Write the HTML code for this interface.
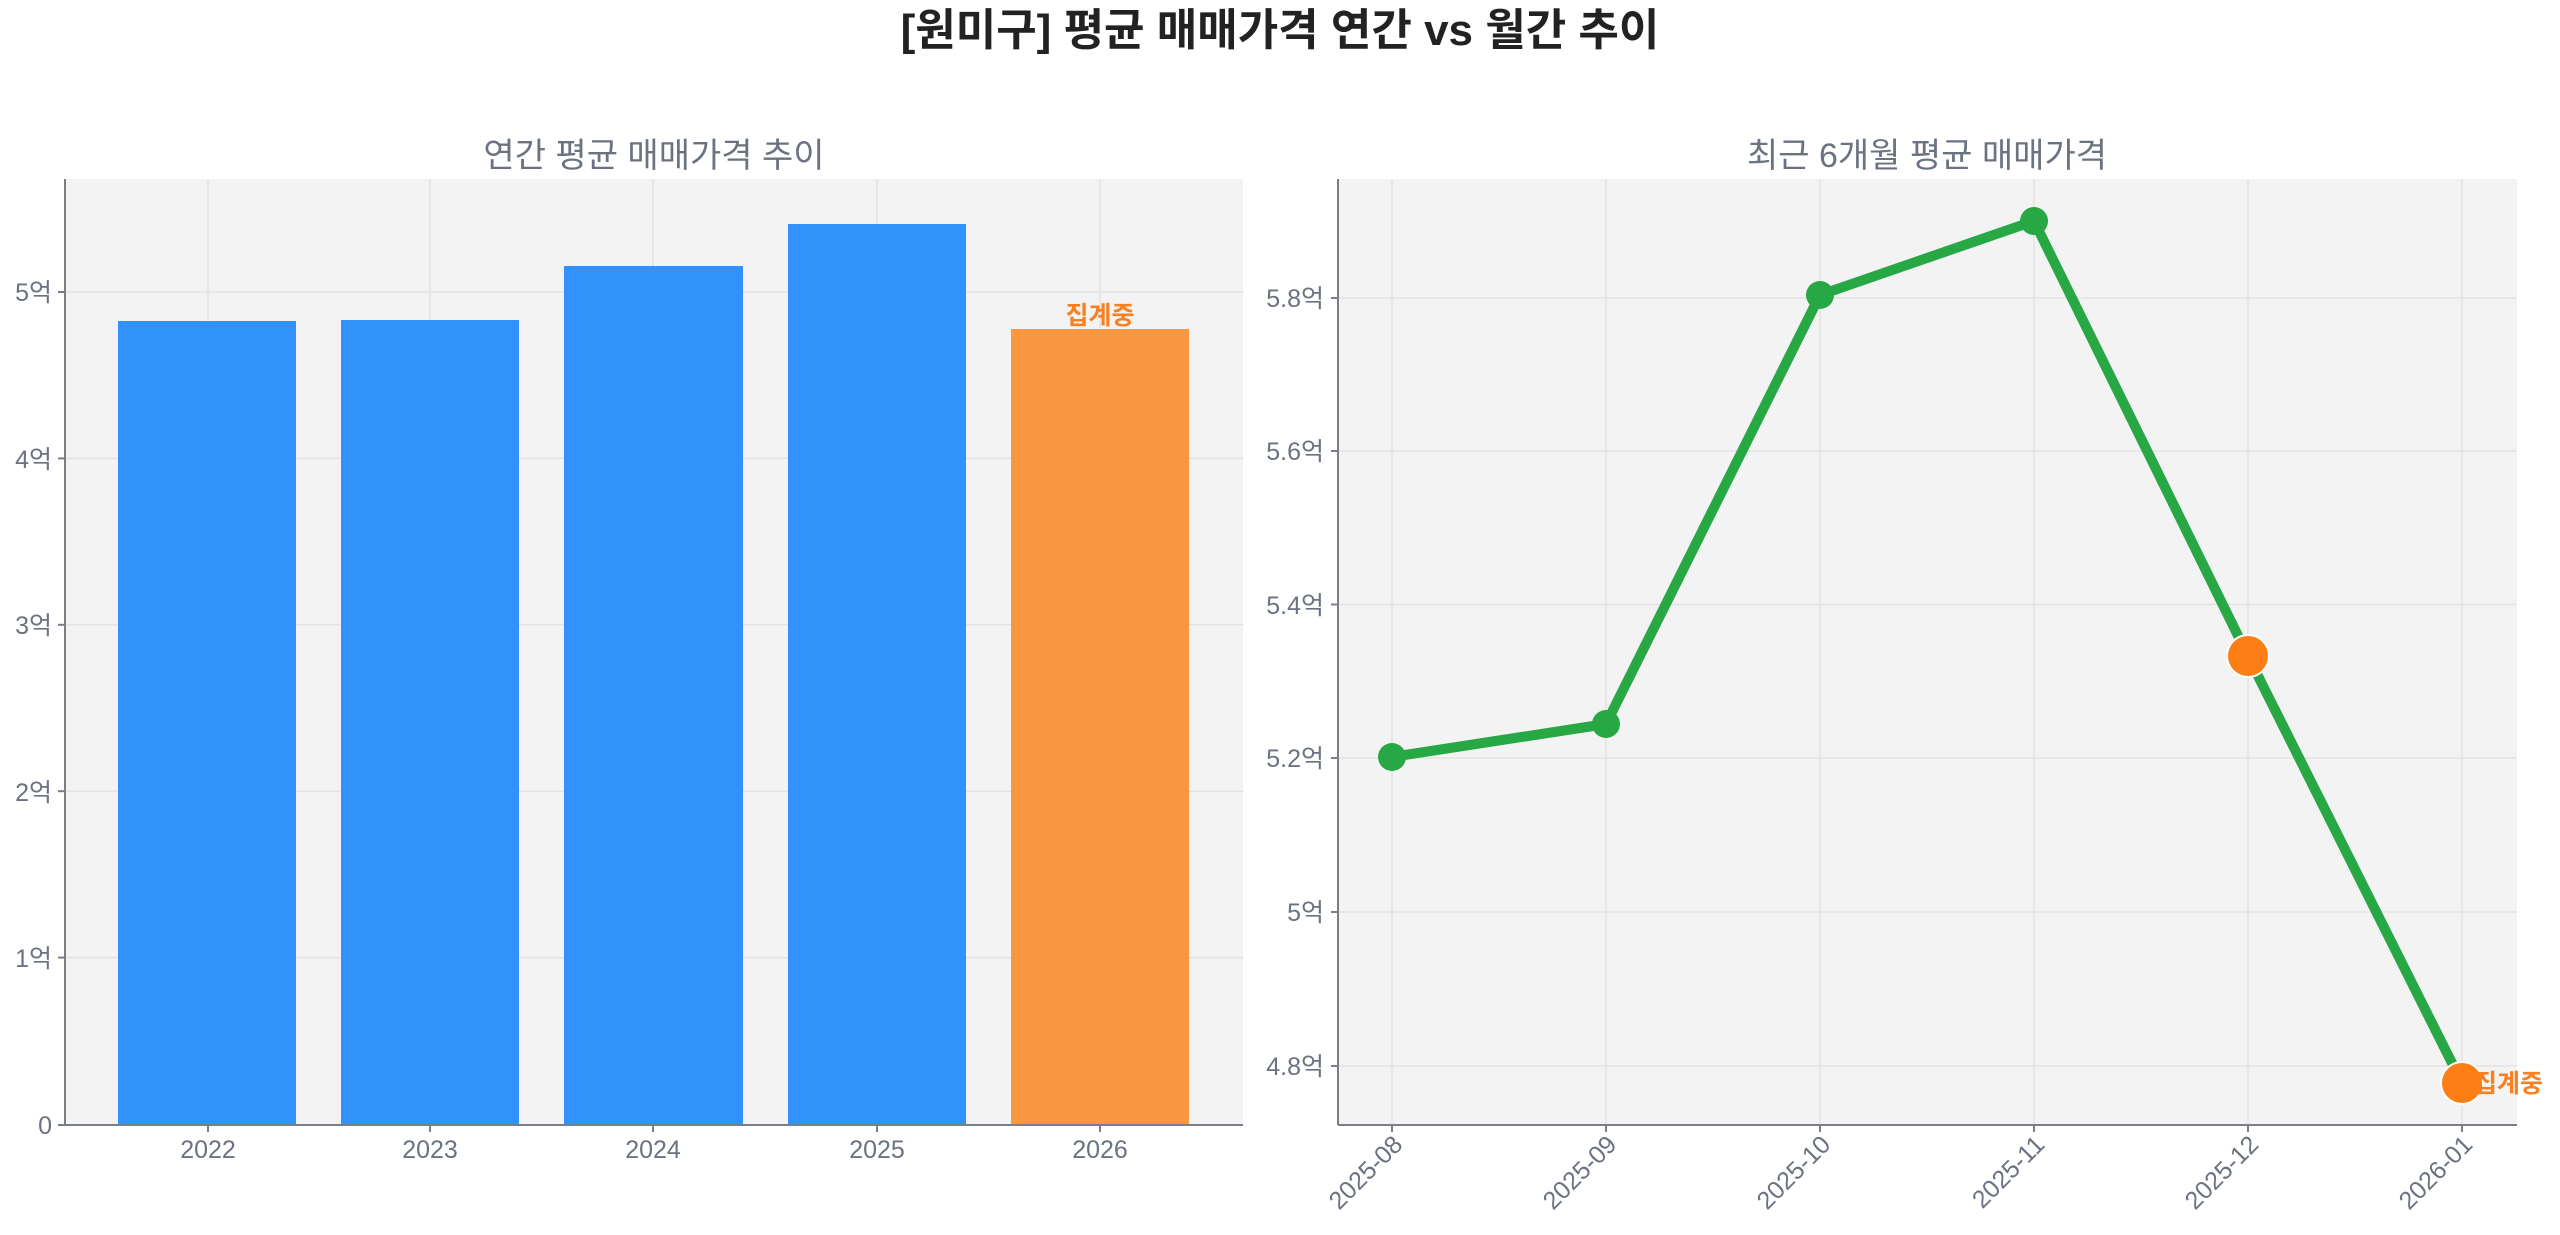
<!DOCTYPE html>
<html><head><meta charset="utf-8"><style>
html,body{margin:0;padding:0;background:#fff;}
svg{display:block;font-family:"Liberation Sans","Noto Sans CJK KR",sans-serif;}
.t{fill:#6b7280;font-size:25px;}
</style></head><body>
<svg width="2560" height="1235" viewBox="0 0 2560 1235" xmlns="http://www.w3.org/2000/svg">
<text x="1280" y="45" text-anchor="middle" font-size="44" font-weight="bold" fill="#222" font-family="'Liberation Sans','Noto Sans CJK KR',sans-serif">[원미구] 평균 매매가격 연간 vs 월간 추이</text>
<!-- left -->
<text x="654" y="167" text-anchor="middle" font-size="34" fill="#6b7280">연간 평균 매매가격 추이</text>
<rect x="65" y="179" width="1178" height="946" fill="#f3f3f3"/>
<g stroke="#e3e3e3" stroke-width="1.5">
<line x1="65" x2="1243" y1="292" y2="292"/><line x1="65" x2="1243" y1="458.4" y2="458.4"/><line x1="65" x2="1243" y1="624.8" y2="624.8"/><line x1="65" x2="1243" y1="791.2" y2="791.2"/><line x1="65" x2="1243" y1="957.6" y2="957.6"/>
<line x1="208" x2="208" y1="179" y2="1125"/><line x1="430" x2="430" y1="179" y2="1125"/><line x1="653" x2="653" y1="179" y2="1125"/><line x1="877" x2="877" y1="179" y2="1125"/><line x1="1100" x2="1100" y1="179" y2="1125"/>
</g>
<rect x="118" y="321" width="178" height="804" fill="#3192fb"/>
<rect x="341" y="320" width="178" height="805" fill="#3192fb"/>
<rect x="564" y="266" width="179" height="859" fill="#3192fb"/>
<rect x="788" y="224" width="178" height="901" fill="#3192fb"/>
<rect x="1011" y="329" width="178" height="796" fill="#f99841"/>
<text x="1100" y="324" text-anchor="middle" font-size="25" font-weight="bold" fill="#f98020">집계중</text>
<g stroke="#7a7f87" stroke-width="2">
<line x1="65" y1="179" x2="65" y2="1125"/><line x1="65" y1="1125" x2="1243" y2="1125"/>
<line x1="58" x2="65" y1="1125" y2="1125"/><line x1="58" x2="65" y1="957.6" y2="957.6"/><line x1="58" x2="65" y1="791.2" y2="791.2"/><line x1="58" x2="65" y1="624.8" y2="624.8"/><line x1="58" x2="65" y1="458.4" y2="458.4"/><line x1="58" x2="65" y1="292" y2="292"/>
<line x1="208" x2="208" y1="1125" y2="1132"/><line x1="430" x2="430" y1="1125" y2="1132"/><line x1="653" x2="653" y1="1125" y2="1132"/><line x1="877" x2="877" y1="1125" y2="1132"/><line x1="1100" x2="1100" y1="1125" y2="1132"/>
</g>
<g class="t" text-anchor="end">
<text x="52" y="1134">0</text><text x="52" y="967">1억</text><text x="52" y="801">2억</text><text x="52" y="634">3억</text><text x="52" y="468">4억</text><text x="52" y="301">5억</text>
</g>
<g class="t" text-anchor="middle">
<text x="208" y="1158">2022</text><text x="430" y="1158">2023</text><text x="653" y="1158">2024</text><text x="877" y="1158">2025</text><text x="1100" y="1158">2026</text>
</g>
<!-- right -->
<text x="1927" y="167" text-anchor="middle" font-size="34" fill="#6b7280">최근 6개월 평균 매매가격</text>
<rect x="1338" y="179" width="1179" height="946" fill="#f3f3f3"/>
<g stroke="#e3e3e3" stroke-width="1.5">
<line x1="1338" x2="2517" y1="298" y2="298"/><line x1="1338" x2="2517" y1="451" y2="451"/><line x1="1338" x2="2517" y1="604.5" y2="604.5"/><line x1="1338" x2="2517" y1="758" y2="758"/><line x1="1338" x2="2517" y1="912" y2="912"/><line x1="1338" x2="2517" y1="1066" y2="1066"/>
<line x1="1392" x2="1392" y1="179" y2="1125"/><line x1="1606" x2="1606" y1="179" y2="1125"/><line x1="1820" x2="1820" y1="179" y2="1125"/><line x1="2034" x2="2034" y1="179" y2="1125"/><line x1="2248" x2="2248" y1="179" y2="1125"/><line x1="2462" x2="2462" y1="179" y2="1125"/>
</g>
<polyline points="1392,757 1606,724 1820,295 2034,221 2248,656 2462,1083" fill="none" stroke="#28a745" stroke-width="10" stroke-linejoin="round"/>
<g fill="#28a745">
<circle cx="1392" cy="757" r="14"/><circle cx="1606" cy="724" r="14"/><circle cx="1820" cy="295" r="14"/><circle cx="2034" cy="221" r="14"/>
</g>
<g fill="#fd7e14" stroke="#fff" stroke-width="2">
<circle cx="2248" cy="656" r="21"/><circle cx="2462" cy="1083" r="21"/>
</g>
<text x="2474" y="1092" font-size="25" font-weight="bold" fill="#f98020">집계중</text>
<g stroke="#7a7f87" stroke-width="2">
<line x1="1338" y1="179" x2="1338" y2="1125"/><line x1="1338" y1="1125" x2="2517" y2="1125"/>
<line x1="1331" x2="1338" y1="298" y2="298"/><line x1="1331" x2="1338" y1="451" y2="451"/><line x1="1331" x2="1338" y1="604.5" y2="604.5"/><line x1="1331" x2="1338" y1="758" y2="758"/><line x1="1331" x2="1338" y1="912" y2="912"/><line x1="1331" x2="1338" y1="1066" y2="1066"/>
<line x1="1392" x2="1392" y1="1125" y2="1132"/><line x1="1606" x2="1606" y1="1125" y2="1132"/><line x1="1820" x2="1820" y1="1125" y2="1132"/><line x1="2034" x2="2034" y1="1125" y2="1132"/><line x1="2248" x2="2248" y1="1125" y2="1132"/><line x1="2462" x2="2462" y1="1125" y2="1132"/>
</g>
<g class="t" text-anchor="end">
<text x="1324" y="307">5.8억</text><text x="1324" y="460">5.6억</text><text x="1324" y="614">5.4억</text><text x="1324" y="767">5.2억</text><text x="1324" y="921">5억</text><text x="1324" y="1075">4.8억</text>
</g>
<g class="t" text-anchor="end">
<text transform="translate(1404,1146) rotate(-45)">2025-08</text>
<text transform="translate(1618,1146) rotate(-45)">2025-09</text>
<text transform="translate(1832,1146) rotate(-45)">2025-10</text>
<text transform="translate(2046,1146) rotate(-45)">2025-11</text>
<text transform="translate(2260,1146) rotate(-45)">2025-12</text>
<text transform="translate(2474,1146) rotate(-45)">2026-01</text>
</g>
</svg>
</body></html>
